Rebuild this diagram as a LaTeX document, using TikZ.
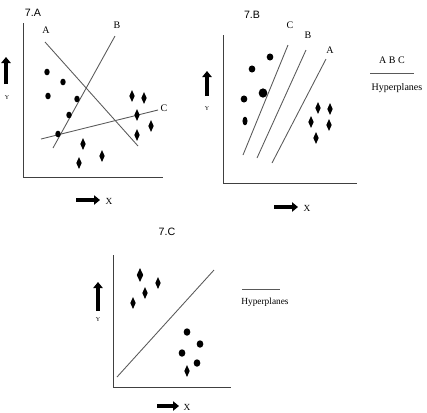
\documentclass[tikz,border=0pt]{standalone}
\usepackage{fontspec}
\setmainfont{Liberation Serif}
\newfontfamily\panelfont{Liberation Sans}
\usetikzlibrary{shapes.geometric,arrows.meta,positioning}

\begin{document}
\begin{tikzpicture}[x=0.75pt, y=-0.75pt,
  axis/.style={draw=black!75, line width=0.65pt},
  hyper/.style={draw=black!65, line width=0.65pt},
  dot/.style={ellipse, fill=black, inner sep=0pt, minimum width=4.1pt, minimum height=4.9pt},
  gem/.style={diamond, fill=black, inner sep=0pt, minimum width=4.2pt, minimum height=9pt},
  bigarrow/.style={line width=3pt, -{Triangle[length=4.5pt, width=7pt]}},
  panel/.style={font=\panelfont\fontsize{8}{9}\selectfont},
  lbl/.style={font=\fontsize{7.5}{8}\selectfont, inner sep=1pt},
  axlbl/.style={font=\fontsize{4.5}{5}\selectfont, inner sep=0.5pt},
  xlbl/.style={font=\fontsize{7}{8}\selectfont, inner sep=0.5pt}]

  \useasboundingbox (0,0) rectangle (427,412);

  % Panel 7.A
  \node [panel] (titleA) at (33,13) {7.A};
  \draw [axis] (23,23) |- (163,177);
  \draw [bigarrow] (6,84) -- (6,57);
  \node [axlbl] (yA) at (7,98) {Y};
  \draw [bigarrow] (76,200) -- (100,200);
  \node [xlbl] (xA) at (109,201) {X};
  \node [lbl] (lA) at (46,30) {A};
  \node [lbl] (lB) at (117,25) {B};
  \node [lbl] (lC) at (164,108) {C};
  \draw [hyper] (45,42) -- (138,146);
  \draw [hyper] (53,148) -- (115,36);
  \draw [hyper] (41,139) -- (158,110);
  \foreach \p in {(47,72),(63,82),(48,96),(77,99),(69,115),(58,134)}
    \node [dot] at \p {};
  \foreach \p in {(132,96),(144,98),(137,115),(151,126),(137,135),(83,144),(79,163),(102,156)}
    \node [gem] at \p {};

  % Panel 7.B
  \node [panel] (titleB) at (252,15) {7.B};
  \draw [axis] (223,35) |- (357,183);
  \draw [bigarrow] (207,96) -- (207,71);
  \node [axlbl] (yB) at (207,109) {Y};
  \draw [bigarrow] (274,207) -- (298,207);
  \node [xlbl] (xB) at (307,208) {X};
  \node [lbl] (mC) at (290,25) {C};
  \node [lbl] (mB) at (308,35) {B};
  \node [lbl] (mA) at (330,50) {A};
  \draw [hyper] (243,155) -- (288,45);
  \draw [hyper] (257,158) -- (306,50);
  \draw [hyper] (272,163) -- (326,59);
  \foreach \p in {(270,57),(252,69),(244,99)}
    \node [dot, minimum width=5pt, minimum height=5.3pt] at \p {};
  \node [dot, minimum width=6.5pt, minimum height=7pt] at (263,93) {};
  \node [dot, minimum width=3.8pt, minimum height=6.5pt] at (245,121) {};
  \foreach \p in {(318,108),(330,109),(311,122),(329,125),(316,138)}
    \node [gem] at \p {};
  \node [lbl] (keyB) at (392,60) {A B C};
  \draw [hyper] (370,73) -- (414,73);
  \node [lbl] (hypB) at (397,88) {Hyperplanes};

  % Panel 7.C
  \node [panel] (titleC) at (167,232) {7.C};
  \draw [axis] (113,255) |- (231,387);
  \draw [bigarrow] (98,311) -- (98,282);
  \node [axlbl] (yC) at (98,320) {Y};
  \draw [bigarrow] (157,406) -- (179,406);
  \node [xlbl] (xC) at (187,407) {X};
  \draw [hyper] (117,377) -- (214,270);
  \node [gem, minimum width=5pt, minimum height=10.5pt] at (140,275) {};
  \foreach \p in {(158,283),(145,293),(133,303),(187,371)}
    \node [gem] at \p {};
  \foreach \p in {(187,332),(200,344),(182,353),(197,363)}
    \node [dot, minimum width=5pt, minimum height=5.6pt] at \p {};
  \draw [hyper] (242,289) -- (280,289);
  \node [lbl, font=\fontsize{7}{8}\selectfont] (hypC) at (265,302) {Hyperplanes};

\end{tikzpicture}
\end{document}
